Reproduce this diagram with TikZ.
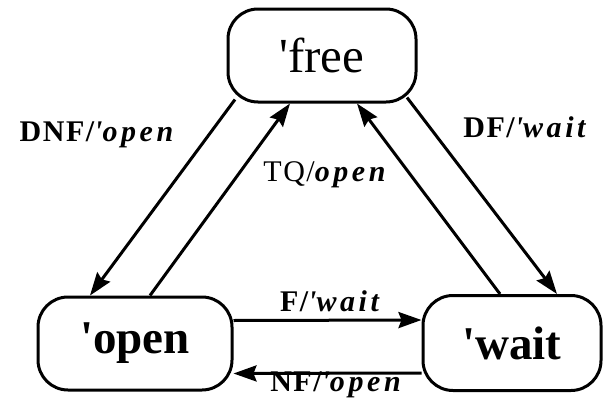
\documentclass[tikz,border=0pt]{standalone}
\usepackage{fontspec}
\setmainfont{Liberation Serif}
\newfontfamily\uplabelfont[LetterSpace=5]{Liberation Serif}
\newfontfamily\itlabelfont[LetterSpace=12]{Liberation Serif}
\usetikzlibrary{arrows.meta}
% transition label: event (upright) / action (italic)
\newcommand{\translabel}[3][\bfseries]{{\uplabelfont#1 #2/}{\itlabelfont\bfseries\itshape #3}}

\begin{document}
\begin{tikzpicture}[x=1pt,y=-1pt,
        state/.style={draw, line width=3pt, rounded corners=30pt, inner sep=0pt},
        trans/.style={line width=3pt, -{Stealth[length=23pt, width=16pt, inset=3pt]}},
        lab/.style={font=\fontsize{30}{32}\selectfont, inner sep=0pt}]
            \useasboundingbox (0,0) rectangle (603,399);
            % states
            \node[state, minimum width=188pt, minimum height=93pt,
                font=\fontsize{49}{50}\selectfont] (free) at (322,55.5) {\textquotesingle free};
            \node[state, minimum width=194pt, minimum height=93pt,
                font=\fontsize{47}{48}\selectfont\bfseries] (open) at (135,343.5) {\textquotesingle open};
            \node[state, minimum width=178pt, minimum height=95pt,
                font=\fontsize{47}{48}\selectfont\bfseries] (wait) at (512,343) {\textquotesingle wait};
            % free -> open
            \draw[trans] ([xshift=-87pt, yshift=4pt]free.south) -- ([xshift=-45pt]open.north);
            \node[lab] (dnf) at (92,135) {\translabel{DNF}{\textquotesingle open}};
            % open -> free
            \draw[trans] ([xshift=15pt]open.north) -- ([xshift=-32pt]free.south);
            \node[lab] (tq) at (320,175) {\translabel[\mdseries]{TQ}{open}};
            % wait -> free
            \draw[trans] ([xshift=-12pt]wait.north) -- ([xshift=35pt]free.south);
            % free -> wait
            \draw[trans] ([xshift=85pt, yshift=6pt]free.south) -- ([xshift=45pt]wait.north);
            \node[lab] (df) at (520,127) {\translabel{DF}{\textquotesingle wait}};
            % open -> wait
            \draw[trans] ([yshift=23pt]open.east) -- ([yshift=23pt]wait.west);
            \node[lab] (f) at (325,301) {\translabel{F}{\textquotesingle wait}};
            % wait -> open
            \draw[trans] ([yshift=-30pt]wait.west) -- ([yshift=-30pt]open.east);
            \node[lab] (nf) at (331,385) {\translabel{NF}{\textquotesingle open}};
        \end{tikzpicture}
\end{document}
